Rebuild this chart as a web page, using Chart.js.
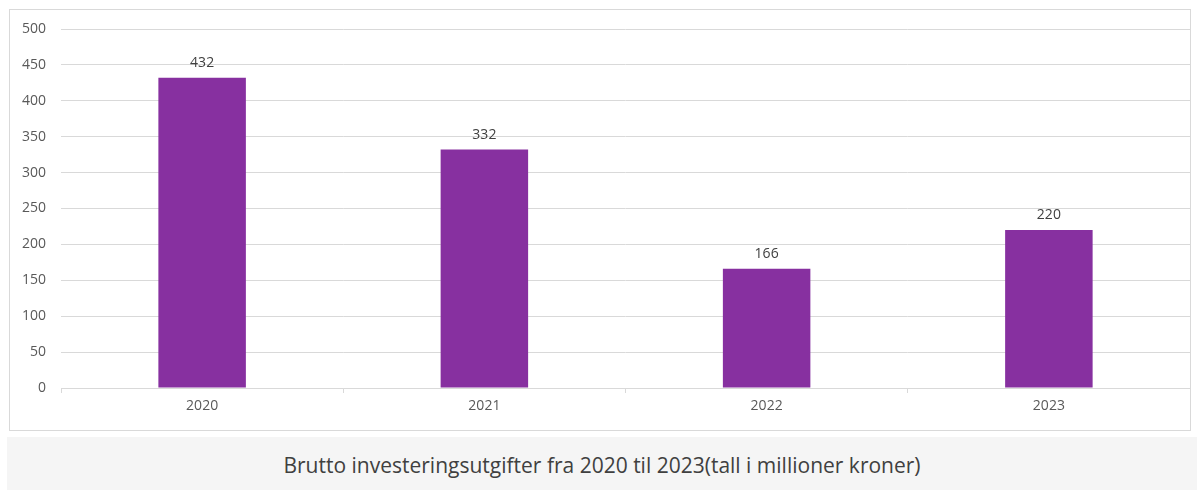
<!DOCTYPE html>
<html>
<head>
<meta charset="utf-8">
<script src="https://cdn.jsdelivr.net/npm/chart.js@4"></script>
<style>
  body { margin: 0; background: #fff; font-family: "Open Sans", sans-serif; }
  #box { position: absolute; left: 9px; top: 9px; width: 1180px; height: 420px; border: 1px solid #d9d9d9; }
  #caption { position: absolute; left: 7px; top: 437px; width: 1190px; height: 53px; background: #f5f5f5;
             color: #404040; font-size: 21px; line-height: 57px; text-align: center; }
</style>
</head>
<body>
<div id="box"><canvas id="my-chart"></canvas></div>
<div id="caption">Brutto investeringsutgifter fra 2020 til 2023(tall i millioner kroner)</div>
<script>
const years = ['2020', '2021', '2022', '2023'];
const investments = [432, 332, 166, 220];
const yTicks = [0, 50, 100, 150, 200, 250, 300, 350, 400, 450, 500];

const barLabels = {
    id: 'barLabels',
    afterDatasetsDraw(chart) {
        let ctx = chart.ctx;
        ctx.save();
        ctx.font = '14px "Open Sans"';
        ctx.fillStyle = '#404040';
        ctx.textAlign = 'center';
        ctx.textBaseline = 'bottom';
        chart.getDatasetMeta(0).data.forEach(function(bar, i) {
            ctx.fillText(investments[i], bar.x, bar.y - 8);
        });
        ctx.restore();
    }
};

let ctx = document.querySelector('#my-chart').getContext('2d');
let myChart = new Chart(ctx, {
    type: 'bar',
    data: {
        labels: years,
        datasets: [{
            data: investments,
            backgroundColor: '#8730a0',
            categoryPercentage: 1,
            barPercentage: 0.31
        }]
    },
    options: {
        responsive: true,
        maintainAspectRatio: false,
        animation: false,
        layout: { padding: { top: 19, right: 0, left: 0, bottom: 0 } },
        scales: {
            x: {
                grid: { offset: true, drawOnChartArea: false, tickLength: 5, color: '#d9d9d9' },
                border: { color: '#d9d9d9' },
                ticks: { color: '#595959', font: { family: 'Open Sans', size: 14 }, padding: 5 },
                afterFit: function(scale) { scale.height = 42; }
            },
            y: {
                min: 0,
                max: 500,
                afterBuildTicks: function(scale) {
                    scale.ticks = yTicks.map(function(v) { return { value: v }; });
                },
                grid: { color: '#d9d9d9', drawTicks: false },
                border: { display: false },
                ticks: { color: '#595959', font: { family: 'Open Sans', size: 14 }, padding: 15 },
                afterFit: function(scale) {
                    scale.width = 51;
                    scale.paddingTop = 0;
                    scale.paddingBottom = 0;
                }
            }
        },
        plugins: {
            legend: { display: false },
            tooltip: { enabled: false }
        }
    },
    plugins: [barLabels]
});
</script>
</body>
</html>
